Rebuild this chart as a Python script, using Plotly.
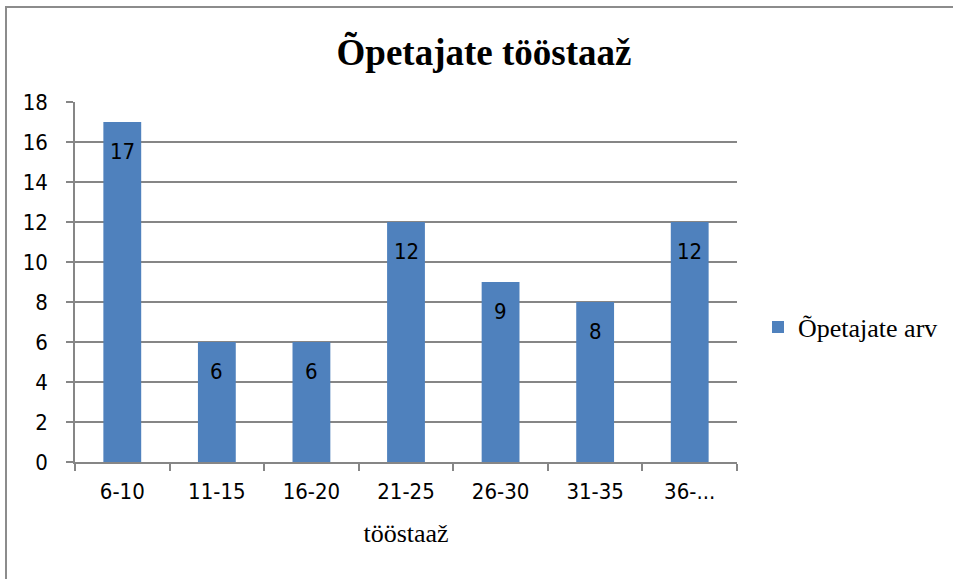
import plotly.graph_objects as go

categories = ["6-10", "11-15", "16-20", "21-25", "26-30", "31-35", "36-..."]
values = [17, 6, 6, 12, 9, 8, 12]
series_name = "Õpetajate arv"
title_text = "Õpetajate tööstaaž"
x_title = "tööstaaž"
y_ticks = [0, 2, 4, 6, 8, 10, 12, 14, 16, 18]

W, H = 953, 579
L, R, T, B = 75, 737, 102, 462
SANS = "Liberation Sans Narrow, DejaVu Sans Condensed, Liberation Sans"

fig = go.Figure()
fig.add_trace(go.Bar(
    x=categories, y=values, name=series_name,
    marker=dict(color="#4F81BD", line=dict(width=0)),
    width=0.4, showlegend=True,
))
for c, v in zip(categories, values):
    fig.add_annotation(x=c, y=v, text=str(v), showarrow=False, yanchor="middle",
                       yshift=-29, font=dict(family=SANS, size=22, color="black"))

def px_x(p):
    return (p - L) / (R - L)

def px_y(p):
    return (B - p) / (B - T)

fig.add_shape(type="rect", xref="paper", yref="paper",
              x0=px_x(6), x1=px_x(1000), y0=px_y(620), y1=px_y(7),
              line=dict(color="#8c8c8c", width=2), fillcolor="rgba(0,0,0,0)", layer="below")

fig.update_layout(
    width=W, height=H,
    margin=dict(l=L, r=W - R, t=T, b=H - B, autoexpand=False),
    paper_bgcolor="white", plot_bgcolor="white",
    title=dict(text=title_text, x=484 / W, xanchor="center", y=1 - 52 / H, yanchor="middle",
               font=dict(family="Liberation Serif", size=37, color="black", weight="bold")),
    font=dict(family=SANS, size=22, color="black"),
    legend=dict(x=px_x(758), y=px_y(327), xanchor="left", yanchor="middle",
                font=dict(family="Liberation Serif", size=26, color="black"),
                itemwidth=30, bgcolor="rgba(0,0,0,0)"),
)
fig.update_xaxes(
    title=dict(text=x_title, font=dict(family="Liberation Serif", size=26, color="black"), standoff=21),
    showline=True, linecolor="#868686", linewidth=1.5,
    ticks="outside", tickson="boundaries", ticklen=7, tickcolor="#868686", tickwidth=1.5,
    tickfont=dict(size=22), showgrid=False, ticklabelstandoff=9,
)
fig.update_yaxes(
    range=[0, 18], tickvals=y_ticks, showline=True, linecolor="#868686", linewidth=1.5,
    ticks="outside", ticklen=7, tickcolor="#868686", tickwidth=1.5,
    showgrid=True, gridcolor="#868686", gridwidth=1.5, zeroline=False,
    tickfont=dict(size=22), ticklabelstandoff=14,
)

fig.write_html("out.html", config={"displayModeBar": False},
               post_script="document.body.style.margin='0';")
